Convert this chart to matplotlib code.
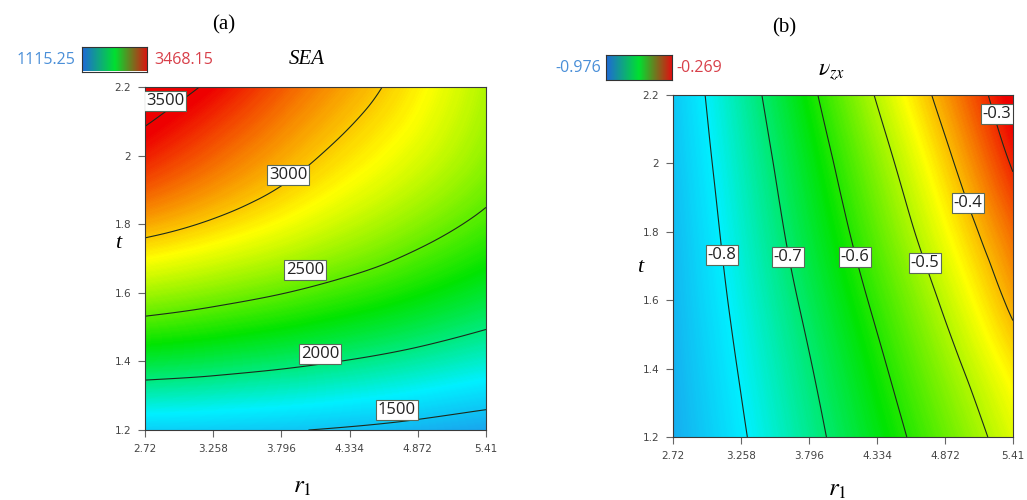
import numpy as np
import matplotlib
matplotlib.use("Agg")
import matplotlib.pyplot as plt
import matplotlib.tri as mtri
from matplotlib.colors import LinearSegmentedColormap, Normalize

# design space
r1_vals = [2.72, 3.258, 3.796, 4.334, 4.872, 5.41]
t_vals = [1.2, 1.4, 1.6, 1.8, 2.0, 2.2]
r1_labels = ["2.72", "3.258", "3.796", "4.334", "4.872", "5.41"]
t_labels = ["1.2", "1.4", "1.6", "1.8", "2", "2.2"]

# SEA response, rows = t, cols = r1
sea = [
    [1557, 1541, 1514, 1474, 1421, 1357],
    [2156, 2113, 2057, 1989, 1909, 1817],
    [2662, 2590, 2507, 2410, 2302, 2181],
    [3075, 2975, 2862, 2736, 2598, 2448],
    [3396, 3240, 3085, 2940, 2799, 2619],
    [3625, 3463, 3260, 3080, 2905, 2694],
]
sea_range = [1115.25, 3468.15]
sea_levels = [1500, 2000, 2500, 3000, 3500]
sea_label_pos = [(4.708, 1.258), (4.10, 1.422), (3.982, 1.666), (3.848, 1.943), (2.878, 2.159)]

# Poisson ratio nu_zx, rows = t, cols = r1
nu = [
    [-0.892, -0.808, -0.722, -0.637, -0.553, -0.469],
    [-0.886, -0.795, -0.705, -0.614, -0.524, -0.434],
    [-0.879, -0.781, -0.684, -0.587, -0.490, -0.386],
    [-0.873, -0.767, -0.662, -0.558, -0.453, -0.344],
    [-0.864, -0.753, -0.641, -0.529, -0.416, -0.294],
    [-0.856, -0.737, -0.616, -0.495, -0.377, -0.256],
]
nu_range = [-0.976, -0.269]
nu_levels = [-0.8, -0.7, -0.6, -0.5, -0.4, -0.3]
nu_label_pos = [(3.108, 1.732), (3.630, 1.726), (4.160, 1.726), (4.714, 1.709), (5.054, 1.884), (5.283, 2.144)]

surf_cmap = LinearSegmentedColormap.from_list(
    "surf", [(0.0, "#2a6fe0"), (0.25, "#00f0ff"), (0.5, "#00e400"), (0.75, "#ffff00"), (1.0, "#ee0000")])
key_cmap = LinearSegmentedColormap.from_list("key", ["#2068d8", "#00e030", "#e01010"])

serif = "Liberation Serif"
sans = "Open Sans"
plt.rcParams["mathtext.fontset"] = "stix"

fig = plt.figure(figsize=(10.27, 5.0), dpi=100)


def panel(rect, z, zrange, levels, label_pos, fmt):
    ax = fig.add_axes(rect)
    X, Y = np.meshgrid(r1_vals, t_vals)
    Z = np.array(z, dtype=float)
    # smooth surface through the grid values (cubic triangle interpolation)
    tri = mtri.Triangulation(X.ravel(), Y.ravel())
    tri_f, z_f = mtri.UniformTriRefiner(tri).refine_field(Z.ravel(), subdiv=4)
    norm = Normalize(vmin=zrange[0], vmax=zrange[1])
    fill = np.linspace(z_f.min(), z_f.max(), 300)
    ax.tricontourf(tri_f, z_f, levels=fill, cmap=surf_cmap, norm=norm, antialiased=False)
    cs = ax.tricontour(tri_f, z_f, levels=levels, colors="#1c2a1c", linewidths=0.8,
                       linestyles="solid")
    texts = ax.clabel(cs, levels, inline=False, fmt=fmt, fontsize=12, manual=label_pos)
    # labels stay horizontal in boxes, at the chosen spots
    for txt, pos in zip(texts, label_pos):
        txt.set_position(pos)
        txt.set_rotation(0)
        txt.set_family(sans)
        txt.set_color("#222222")
        txt.set_bbox(dict(boxstyle="square,pad=0.12", fc="white", ec="#5a6a5a", lw=0.8))
        txt.set_zorder(5)
    ax.set_xlim(r1_vals[0], r1_vals[-1])
    ax.set_ylim(t_vals[0], t_vals[-1])
    ax.set_xticks(r1_vals, r1_labels)
    ax.set_yticks(t_vals, t_labels)
    ax.tick_params(length=5, width=0.8, color="#666666", labelsize=7.5,
                   labelcolor="#444444", pad=5)
    for s in ax.spines.values():
        s.set_color("#3a3a3a")
        s.set_linewidth(0.8)
    return ax


def key(rect, zrange, lo_txt, hi_txt, lo_x, hi_x, y):
    kax = fig.add_axes(rect)
    grad = np.linspace(zrange[0], zrange[1], 256).reshape(1, -1)
    kax.imshow(grad, cmap=key_cmap, aspect="auto")
    kax.set_xticks([])
    kax.set_yticks([])
    for s in kax.spines.values():
        s.set_color("#333333")
        s.set_linewidth(0.8)
    fig.text(lo_x, y, lo_txt, ha="right", va="center", fontsize=11.5, color="#4a8fd8", family=sans)
    fig.text(hi_x, y, hi_txt, ha="left", va="center", fontsize=11.5, color="#d8404a", family=sans)


ax_a = panel([0.1412, 0.140, 0.332, 0.686], sea, sea_range, sea_levels, sea_label_pos, "%d")
ax_b = panel([0.6553, 0.126, 0.331, 0.684], nu, nu_range, nu_levels, nu_label_pos, "%.1f")

key([0.0800, 0.857, 0.0635, 0.050], sea_range, "1115.25", "3468.15", 0.073, 0.150, 0.880)
key([0.5900, 0.840, 0.0640, 0.050], nu_range, "-0.976", "-0.269", 0.585, 0.659, 0.864)

fig.text(0.218, 0.950, "(a)", ha="center", va="center", fontsize=15, family=serif)
fig.text(0.764, 0.944, "(b)", ha="center", va="center", fontsize=15, family=serif)
fig.text(0.299, 0.880, "SEA", ha="center", va="center", fontsize=15, family=serif, style="italic")
fig.text(0.810, 0.858, r"$\nu_{zx}$", ha="center", va="center", fontsize=17)

fig.text(0.115, 0.514, "t", ha="center", va="center", fontsize=16, family=serif, style="italic")
fig.text(0.623, 0.464, "t", ha="center", va="center", fontsize=16, family=serif, style="italic")
fig.text(0.294, 0.028, r"$r_1$", ha="center", va="center", fontsize=18)
fig.text(0.815, 0.022, r"$r_1$", ha="center", va="center", fontsize=18)

fig.savefig("out.png", dpi=100)
